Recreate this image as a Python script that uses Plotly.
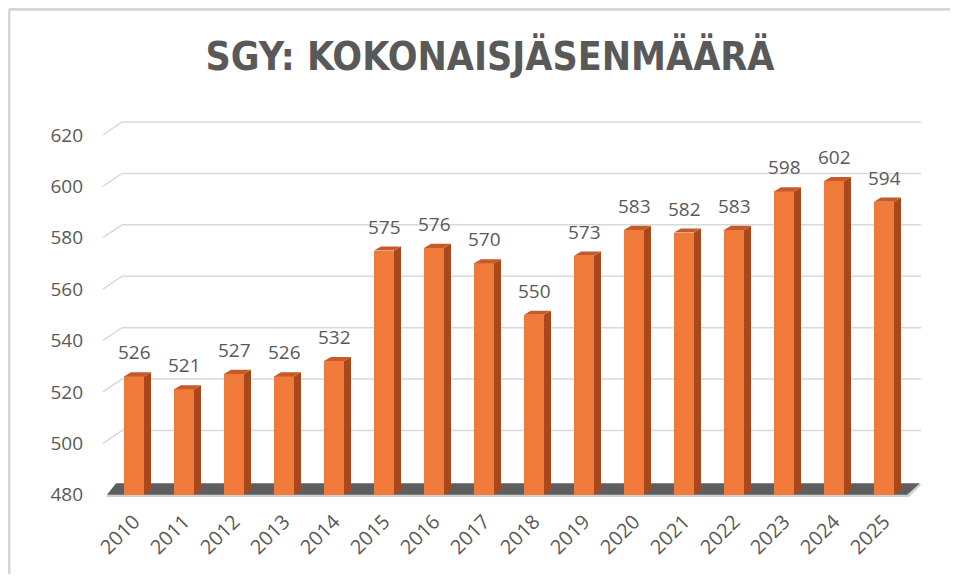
import plotly.graph_objects as go

years = ["2010", "2011", "2012", "2013", "2014", "2015", "2016", "2017",
         "2018", "2019", "2020", "2021", "2022", "2023", "2024", "2025"]
members = [526, 521, 527, 526, 532, 575, 576, 570, 550, 573, 583, 582, 583, 598, 602, 594]
y_ticks = [480, 500, 520, 540, 560, 580, 600, 620]
title_text = "SGY: KOKONAISJÄSENMÄÄRÄ"

BASE = 480
HALF = 0.2      # half bar width (category units)
DX, DY = 0.14, 1.6   # bar depth offset
GDX, GDY = 0.38, 5   # back-wall depth for gridlines
xs = list(range(len(years)))

FRONT = "#EF7A3A"
SIDE = "#A8491D"
TOP = "#C65A28"
TXT = "#595959"
FONT = "Open Sans, Liberation Sans, sans-serif"

fig = go.Figure()

# front faces
fig.add_trace(go.Bar(x=xs, y=[v - BASE for v in members], base=BASE, width=2 * HALF,
                     marker=dict(color=FRONT, line=dict(width=0)), hoverinfo="skip",
                     showlegend=False))

# side faces
sx, sy = [], []
for i, v in zip(xs, members):
    sx += [i + HALF, i + HALF, i + HALF + DX, i + HALF + DX, i + HALF, None]
    sy += [BASE, v, v + DY, BASE + DY, BASE, None]
fig.add_trace(go.Scatter(x=sx, y=sy, fill="toself", fillcolor=SIDE, mode="lines",
                         line=dict(width=0, color=SIDE), hoverinfo="skip", showlegend=False))

# top faces
tx, ty = [], []
for i, v in zip(xs, members):
    tx += [i - HALF, i + HALF, i + HALF + DX, i - HALF + DX, i - HALF, None]
    ty += [v, v, v + DY, v + DY, v, None]
fig.add_trace(go.Scatter(x=tx, y=ty, fill="toself", fillcolor=TOP, mode="lines",
                         line=dict(width=0, color=TOP), hoverinfo="skip", showlegend=False))

shapes = []
# gridlines on back wall with slanted side-wall part
x_left, x_right = -0.62, 15.74
for t in y_ticks[1:]:
    shapes.append(dict(type="path", xref="x", yref="y", layer="below",
                       path=f"M {x_left},{t} L {x_left + GDX},{t + GDY} L {x_right},{t + GDY}",
                       line=dict(color="#D9D9D9", width=1.5)))
# floor shadow + floor
shapes.append(dict(type="path", xref="x", yref="y", layer="below",
                   path=f"M -0.56,{BASE - 0.9} L 15.5,{BASE - 0.9} L 15.76,{BASE + 4.2} L -0.36,{BASE + 4.2} Z",
                   fillcolor="#D0D0D0", line=dict(width=0)))
shapes.append(dict(type="path", xref="x", yref="y", layer="below",
                   path=f"M -0.54,{BASE} L 15.46,{BASE} L 15.72,{BASE + 4.5} L -0.36,{BASE + 4.5} Z",
                   fillcolor="#5E5E5E", line=dict(width=0)))
# chart border (top and left edges)
shapes.append(dict(type="line", xref="paper", yref="paper", layer="below",
                   x0=-0.097, x1=1.2, y0=1.236, y1=1.236,
                   line=dict(color="#D6D6D6", width=3)))
shapes.append(dict(type="line", xref="paper", yref="paper", layer="below",
                   x0=-0.097, x1=-0.097, y0=-0.3, y1=1.236,
                   line=dict(color="#D6D6D6", width=3)))

annotations = []
for i, v in zip(xs, members):
    annotations.append(dict(x=i, y=v, xref="x", yref="y", text=str(v), showarrow=False,
                            yshift=24, yanchor="middle",
                            font=dict(family=FONT, size=19, color=TXT)))

fig.update_layout(
    width=950, height=566,
    margin=dict(l=82, r=33, t=96, b=69, autoexpand=False),
    paper_bgcolor="white", plot_bgcolor="white",
    title=dict(text=f"<b>{title_text}</b>", x=482 / 950, xanchor="center", y=1 - 48 / 566,
               yanchor="middle",
               font=dict(family="DejaVu Sans Condensed, Liberation Sans Narrow, sans-serif",
                         size=39, color=TXT)),
    shapes=shapes, annotations=annotations,
    xaxis=dict(range=[-0.88, 15.82], tickvals=xs, ticktext=years, tickangle=-45,
               showgrid=False, zeroline=False, showline=False, ticks="", automargin=False,
               tickfont=dict(family=FONT, size=20, color=TXT)),
    yaxis=dict(range=[476, 632], tickvals=y_ticks, showgrid=False, zeroline=False,
               showline=False, ticks="", ticklabelstandoff=6, automargin=False,
               tickfont=dict(family=FONT, size=19, color=TXT)),
    bargap=0,
)

fig.write_html("out.html", post_script="document.body.style.overflow='hidden';")
